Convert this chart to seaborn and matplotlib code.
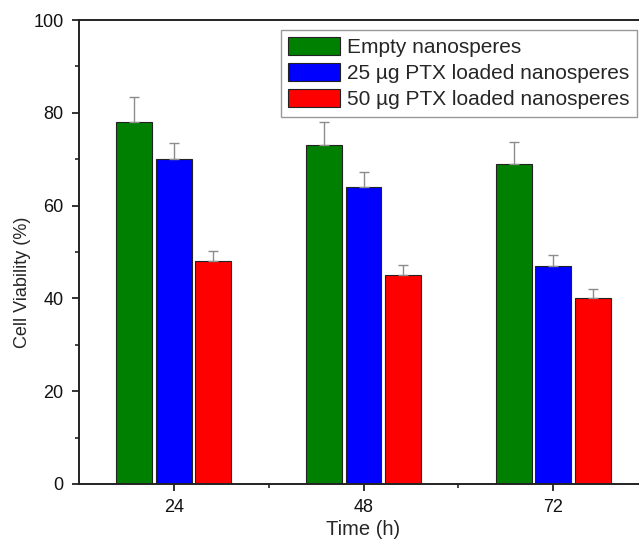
import pandas as pd
import numpy as np
import matplotlib
matplotlib.use("Agg")
import matplotlib.pyplot as plt
from matplotlib.ticker import MultipleLocator, FixedLocator
import seaborn as sns

# === Daten ===
times = ["24", "48", "72"]
groups = ["Empty nanosperes", "25 µg PTX loaded nanosperes", "50 µg PTX loaded nanosperes"]
empty_vals = [78, 73, 69]
ptx25_vals = [70, 64, 47]
ptx50_vals = [48, 45, 40]
empty_err = [5.4, 5.0, 4.8]
ptx25_err = [3.5, 3.2, 2.3]
ptx50_err = [2.3, 2.1, 2.0]
colors = ["#008000", "#0000ff", "#ff0000"]

rows = []
for g, vals in zip(groups, [empty_vals, ptx25_vals, ptx50_vals]):
    for t, v in zip(times, vals):
        rows.append({"time": t, "group": g, "value": v})
df = pd.DataFrame(rows)
errs = [empty_err, ptx25_err, ptx50_err]

# === Stil ===
sns.set_style("ticks")
plt.rcParams["font.family"] = ["Liberation Sans", "DejaVu Sans"]

fig = plt.figure(figsize=(6.39, 5.43), dpi=100)
ax = fig.add_axes([79 / 639, 1 - 484 / 543, (648 - 79) / 639, (484 - 20) / 543])

sns.barplot(data=df, x="time", y="value", hue="group", palette=colors,
            saturation=1, width=0.625, gap=0.09, edgecolor="#222222",
            linewidth=0.8, ax=ax, errorbar=None)

# Fehlerbalken (nur nach oben)
for cont, e in zip(ax.containers, errs):
    xs = [p.get_x() + p.get_width() / 2 for p in cont.patches]
    ys = [p.get_height() for p in cont.patches]
    ax.errorbar(xs, ys, yerr=[np.zeros(len(e)), e], fmt="none",
                ecolor="#8c8c8c", elinewidth=1.0, capsize=3.3, capthick=1.0,
                zorder=1)

ax.set_xlim(-0.5, 2.5)
ax.set_ylim(0, 100)
ax.yaxis.set_major_locator(MultipleLocator(20))
ax.yaxis.set_minor_locator(MultipleLocator(10))
ax.xaxis.set_minor_locator(FixedLocator([0.5, 1.5]))
ax.tick_params(which="major", direction="out", length=5, width=1.2,
               labelsize=13, colors="#111111", labelcolor="#111111")
ax.tick_params(which="minor", direction="out", length=3, width=1.2)
ax.tick_params(axis="x", pad=6)
ax.tick_params(axis="y", pad=6)

for side in ["left", "bottom", "top"]:
    ax.spines[side].set_linewidth(1.4)
    ax.spines[side].set_color("#222222")
ax.spines["right"].set_visible(False)

ax.set_xlabel("Time (h)", fontsize=14.5, labelpad=3)
ax.set_ylabel("Cell Viability (%)", fontsize=13)
ax.yaxis.set_label_coords(-0.085, 0.435)

leg = ax.legend(loc="upper right", bbox_to_anchor=(637 / 639, 1 - 30 / 543),
                bbox_transform=fig.transFigure, fontsize=15, frameon=True,
                fancybox=False, edgecolor="#999999", framealpha=1,
                handlelength=2.5, handleheight=0.9, labelspacing=0.3,
                handletextpad=0.35, borderpad=0.35, borderaxespad=0)
leg.get_frame().set_linewidth(1.0)

fig.savefig("out.png", dpi=100)
